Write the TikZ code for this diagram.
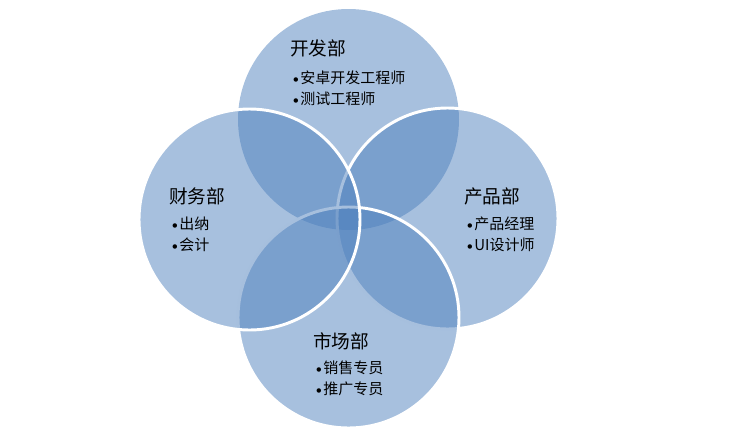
\documentclass[tikz,border=0pt]{standalone}
\usepackage{fontspec}
\newfontfamily\cjk{Noto Sans CJK SC}
\usetikzlibrary{backgrounds}
\definecolor{vennblue}{HTML}{4F81BD}
\tikzset{
  venn/.style={circle, minimum size=165.75pt, inner sep=0pt, fill=vennblue, fill opacity=0.5},
  vennline/.style={venn, draw=white, line width=2.2pt},
  dept/.style={anchor=west, inner sep=0pt, font=\cjk\fontsize{14}{16}\selectfont},
  duty/.style={anchor=west, inner sep=0pt, font=\cjk\fontsize{11.25}{14}\selectfont},
}
\newcommand\itm{{\rmfamily\bfseries\textbullet}\kern-1.5pt}

\begin{document}
\begin{tikzpicture}[x=0.75pt, y=-0.75pt]
      \useasboundingbox (0,0) rectangle (736,440);

      % Draw the four circles
      \node[venn] (top) at (348.5,119.5) {};
      \node[vennline] (right) at (447.5,218.5) {};
      \node[vennline] (bottom) at (348.5,317.5) {};
      \node[vennline] (left) at (249.5,219.5) {};

      % Top circle
      \node[dept] (kaifa) at (290,48) {开发部};
      \node[duty] (kaifa-1) at (289,78) {\itm 安卓开发工程师};
      \node[duty] (kaifa-2) at (289,99) {\itm 测试工程师};

      % Left circle
      \node[dept] (caiwu) at (169,196) {财务部};
      \node[duty] (caiwu-1) at (168,224) {\itm 出纳};
      \node[duty] (caiwu-2) at (168,245) {\itm 会计};

      % Right circle
      \node[dept] (chanpin) at (464,196) {产品部};
      \node[duty] (chanpin-1) at (463,224) {\itm 产品经理};
      \node[duty] (chanpin-2) at (463,245) {\itm UI设计师};

      % Bottom circle
      \node[dept] (shichang) at (313,341) {市场部};
      \node[duty] (shichang-1) at (312,368) {\itm 销售专员};
      \node[duty] (shichang-2) at (312,389) {\itm 推广专员};
    \end{tikzpicture}
\end{document}
